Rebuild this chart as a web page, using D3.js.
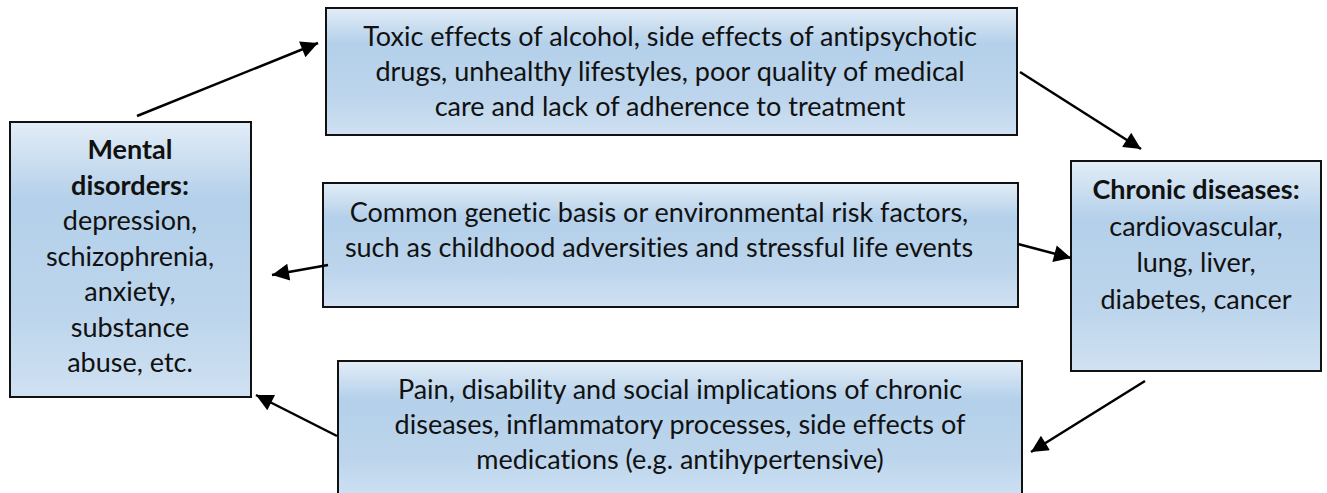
<!DOCTYPE html>
<html>
<head>
<meta charset="utf-8">
<script src="https://cdn.jsdelivr.net/npm/d3@7"></script>
<style>
  body { margin: 0; background: #fff; }
  svg { display: block; }
  text { font-variant-ligatures: none; }
</style>
</head>
<body>
<div id="diagram"></div>
<script>
var width = 1327;
var height = 493;

// box texts: [bold lines, normal lines]
var boxNames = ["mental", "toxic", "genetic", "chronic", "pain"];
var boxBold = [
  ["Mental", "disorders:"],
  [],
  [],
  ["Chronic diseases:"],
  []
];
var boxLines = [
  ["depression,", "schizophrenia,", "anxiety,", "substance", "abuse, etc."],
  ["Toxic effects of alcohol, side effects of antipsychotic",
   "drugs, unhealthy lifestyles, poor quality of medical",
   "care and lack of adherence to treatment"],
  ["Common genetic basis or environmental risk factors,",
   "such as childhood adversities and stressful life events"],
  ["cardiovascular,", "lung, liver,", "diabetes, cancer"],
  ["Pain, disability and social implications of chronic",
   "diseases, inflammatory processes, side effects of",
   "medications (e.g. antihypertensive)"]
];

// box frames [x0, y0, x1, y1]
var boxFrames = [
  [10, 122, 251, 397],
  [326, 8, 1017, 135],
  [323, 183, 1018, 307],
  [1071, 161, 1321, 371],
  [338, 361, 1022, 500]
];
// first text line centre [x, y]
var textStart = [
  [130, 150],
  [670, 37],
  [659, 213],
  [1196, 190],
  [680, 390]
];
var lineGap = [35.5, 35, 35, 36.5, 35];

// arrows [x1, y1, x2, y2]
var arrows = [
  [137, 116, 318, 43],
  [1020, 72, 1141, 149],
  [328, 265, 272, 275],
  [1018, 244, 1071, 258],
  [1145, 381, 1031, 452],
  [337, 436, 256, 395]
];

var svg = d3.select("#diagram")
  .append("svg")
  .attr("width", width)
  .attr("height", height);

var defs = svg.append("defs");
var grad = defs.append("linearGradient")
  .attr("id", "boxFill")
  .attr("x1", 0).attr("y1", 0)
  .attr("x2", 0).attr("y2", 1);
grad.append("stop").attr("offset", "0%").attr("stop-color", "#e2edf7");
grad.append("stop").attr("offset", "28%").attr("stop-color", "#b4d0ea");
grad.append("stop").attr("offset", "70%").attr("stop-color", "#bcd5ec");
grad.append("stop").attr("offset", "100%").attr("stop-color", "#d0e1f2");

defs.append("marker")
  .attr("id", "head")
  .attr("viewBox", "0 0 10 10")
  .attr("refX", 10).attr("refY", 5)
  .attr("markerUnits", "userSpaceOnUse")
  .attr("markerWidth", 20).attr("markerHeight", 17)
  .attr("orient", "auto")
  .append("path")
  .attr("d", "M0,0 L10,5 L0,10 Z")
  .attr("fill", "#000");

var boxes = svg.selectAll("g.box")
  .data(boxNames)
  .enter()
  .append("g")
  .attr("class", "box");

boxes.append("rect")
  .attr("x", function(d, i) { return boxFrames[i][0]; })
  .attr("y", function(d, i) { return boxFrames[i][1]; })
  .attr("width", function(d, i) { return boxFrames[i][2] - boxFrames[i][0]; })
  .attr("height", function(d, i) { return boxFrames[i][3] - boxFrames[i][1]; })
  .attr("fill", "url(#boxFill)")
  .attr("stroke", "#111")
  .attr("stroke-width", 2);

boxes.each(function(d, i) {
  var g = d3.select(this);
  var lines = boxBold[i].map(function(t) { return {t: t, bold: true}; })
    .concat(boxLines[i].map(function(t) { return {t: t, bold: false}; }));
  g.selectAll("text")
    .data(lines)
    .enter()
    .append("text")
    .attr("x", textStart[i][0])
    .attr("y", function(l, k) { return textStart[i][1] + k * lineGap[i]; })
    .attr("dy", "0.35em")
    .attr("text-anchor", "middle")
    .attr("font-family", "Lato, 'Open Sans', sans-serif")
    .attr("font-size", 27)
    .attr("font-weight", function(l) { return l.bold ? "bold" : "normal"; })
    .attr("fill", "#111")
    .text(function(l) { return l.t; });
});

svg.selectAll("line.arrow")
  .data(arrows)
  .enter()
  .append("line")
  .attr("class", "arrow")
  .attr("x1", function(d) { return d[0]; })
  .attr("y1", function(d) { return d[1]; })
  .attr("x2", function(d) { return d[2]; })
  .attr("y2", function(d) { return d[3]; })
  .attr("stroke", "#000")
  .attr("stroke-width", 2.5)
  .attr("marker-end", "url(#head)");
</script>
</body>
</html>
